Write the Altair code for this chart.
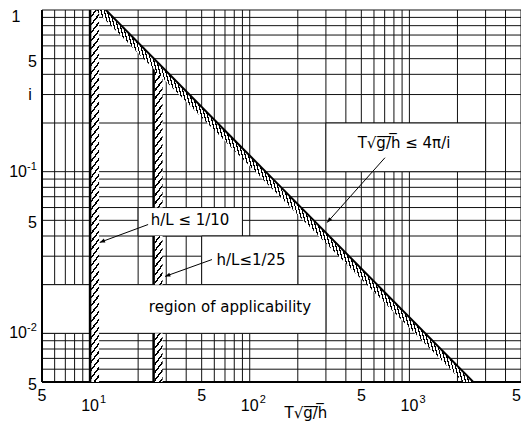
import math
import altair as alt
import pandas as pd

# ---------------- data ----------------
x_grid = [5, 6, 7, 8, 9, 10, 20, 30, 40, 50, 60, 70, 80, 90, 100, 200, 300, 400,
          500, 600, 700, 800, 900, 1000, 2000, 3000, 4000, 5000]
y_grid = [0.005, 0.006, 0.007, 0.008, 0.009, 0.01, 0.02, 0.03, 0.04, 0.05, 0.06,
          0.07, 0.08, 0.09, 0.1, 0.2, 0.3, 0.4, 0.5, 0.6, 0.7, 0.8, 0.9, 1.0]

x_five_vals = [5, 50, 500]
x_edge_vals = [5000]
x_major_vals = [10, 100, 1000]
x_major_exp = ["1", "2", "3"]
y_one_vals = [1.0]
y_five_vals = [0.5, 0.05, 0.005]
y_major_vals = [0.1, 0.01]
y_major_exp = ["-1", "-2"]

# limit line  T*sqrt(g/h) = 4*pi / i
limit_T = [11.0, 2600.0]
limit_i = [4 * math.pi / t for t in limit_T]

# h/L limits (vertical hatched bands), split where label boxes hide them
band_T = [10, 25, 25, 25]
band_top = [1.0, 0.44, 0.04, 0.01]
band_bottom = [0.005, 0.06, 0.02, 0.005]
rule_T = [10, 25, 25, 25]
rule_top = [1.0, 4 * math.pi / 25, 0.04, 0.01]
rule_bottom = [0.005, 0.06, 0.02, 0.005]

# blank label areas in the grid
box_T1 = [300, 20, 50, 5]
box_T2 = [3000, 90, 200, 300]
box_i1 = [0.1, 0.04, 0.02, 0.01]
box_i2 = [0.2, 0.06, 0.04, 0.02]

# annotation texts
ann_text = ["T√g̅/̅h̅  ≤ 4π/i", "h/L ≤ 1/10", "h/L≤1/25", "region of applicability"]
ann_T = [925, 42.3, 101.9, 75.2]
ann_i = [0.151, 0.0505, 0.0286, 0.01447]

# arrows (tail, head)
arrow_id = [1, 1, 2, 2, 3, 3]
arrow_T = [23.1, 11.5, 58.0, 29.5, 703, 305]
arrow_i = [0.0471, 0.0365, 0.0286, 0.0225, 0.122, 0.0484]
head_T = [11.5, 29.5, 305]
head_i = [0.0365, 0.0225, 0.0484]
head_ang = [159, 160, 132]

# ---------------- styling helpers ----------------
W_PLOT, H_PLOT = 479, 372
PXD = H_PLOT / math.log10(1 / 0.005)
PXD_X = W_PLOT / 3.0
FONT = "DejaVu Sans"
LFONT = "Liberation Sans"
HATCH_FACTOR = 0.86

xs = alt.Scale(type="log", domain=[5, 5000], nice=False)
ys = alt.Scale(type="log", domain=[0.005, 1], nice=False)


def X(f):
    return alt.X(f"{f}:Q", scale=xs, axis=None)


def Y(f):
    return alt.Y(f"{f}:Q", scale=ys, axis=None)


def stripes(t0, t1, n, frac):
    p = (t1 - t0) / n
    out = []
    for k in range(n):
        a = round(t0 + k * p, 5)
        b = round(t0 + (k + frac) * p, 5)
        out += [{"offset": a, "color": "white"}, {"offset": a, "color": "black"},
                {"offset": b, "color": "black"}, {"offset": b, "color": "white"}]
    return out


def band_gradient(top, bottom, width=8, slope=1.3, period=8.0, frac=0.3):
    H = PXD * math.log10(top / bottom)
    a = slope * width / H
    m = max(0.05, a)
    L = 1 + 2 * m
    n = max(1, round(H * L * (1 + a * a) / period))
    return {"gradient": "linear", "x1": 0, "y1": -m, "x2": a * L, "y2": -m + L,
            "stops": stripes(0, 1, n, frac)}


def diag_gradient(s=4.0, period=6.0, frac=0.4):
    W = PXD_X * math.log10(limit_T[1] / limit_T[0])
    H = PXD * math.log10(limit_i[0] / (limit_i[1] * HATCH_FACTOR))
    r = W / H
    vx, vy = 0.5 * s * r, -0.5
    den = vx * vx + vy * vy

    def t(u, w):
        return (u * vx + (w - 0.5) * vy) / den

    t0, t1 = t(0, 0), t(1, 1)
    length = math.hypot(W, H)
    per_t = abs(t1 - t0) / length * period
    lo, hi = max(0.0, min(t0, t1) - 0.03), min(1.0, max(t0, t1) + 0.03)
    n = round((hi - lo) / per_t)
    return {"gradient": "linear", "x1": 0, "y1": 0.5, "x2": vx, "y2": 0.5 + vy,
            "stops": stripes(lo, hi, n, frac)}


# ---------------- layers ----------------
vgrid = alt.Chart(pd.DataFrame({"T": x_grid})).mark_rule(
    color="#111", strokeWidth=1).encode(x=X("T"))
hgrid = alt.Chart(pd.DataFrame({"i": y_grid})).mark_rule(
    color="#111", strokeWidth=1).encode(y=Y("i"))

frame_l = alt.Chart(pd.DataFrame({"T": [5]})).mark_rule(
    color="black", strokeWidth=2).encode(x=X("T"))
frame_b = alt.Chart(pd.DataFrame({"i": [0.005]})).mark_rule(
    color="black", strokeWidth=2).encode(y=Y("i"))

boxes = alt.Chart(pd.DataFrame({"T1": box_T1, "T2": box_T2, "i1": box_i1, "i2": box_i2})).mark_rect(
    fill="white", stroke="#111", strokeWidth=1).encode(
    x=X("T1"), x2="T2", y=Y("i1"), y2="i2")

band_layers = []
for T, top, bot in zip(band_T, band_top, band_bottom):
    band_layers.append(
        alt.Chart(pd.DataFrame({"T": [T], "top": [top], "bot": [bot]})).mark_rect(
            width=8, xOffset=5, fill=band_gradient(top, bot), strokeWidth=0).encode(
            x=X("T"), y=Y("top"), y2="bot"))

band_rules = alt.Chart(pd.DataFrame({"T": rule_T, "top": rule_top, "bot": rule_bottom})).mark_rule(
    color="black", strokeWidth=2.5).encode(x=X("T"), y=Y("top"), y2="bot")

line_df = pd.DataFrame({"T": limit_T, "i": limit_i})
hatch_df = line_df.assign(i2=line_df["i"] * HATCH_FACTOR)

diag_hatch = alt.Chart(hatch_df).mark_area(
    clip=True, fill=diag_gradient(), strokeWidth=0).encode(
    x=X("T"), y=Y("i"), y2="i2")
diag_line = alt.Chart(line_df).mark_line(
    clip=True, color="black", strokeWidth=2).encode(x=X("T"), y=Y("i"))

arrows = alt.Chart(pd.DataFrame({"id": arrow_id, "T": arrow_T, "i": arrow_i})).mark_line(
    color="black", strokeWidth=1).encode(x=X("T"), y=Y("i"), detail="id:N")
heads = alt.Chart(pd.DataFrame({"T": head_T, "i": head_i, "ang": head_ang})).mark_point(
    shape="M0,0L-1,-0.4L-1,0.4Z", filled=True, size=110, color="black", opacity=1).encode(
    x=X("T"), y=Y("i"), angle=alt.Angle("ang:Q", scale=None))

ann = alt.Chart(pd.DataFrame({"t": ann_text, "T": ann_T, "i": ann_i})).mark_text(
    font=FONT, fontSize=15, color="black").encode(x=X("T"), y=Y("i"), text="t:N")

# x tick labels
xl5 = alt.Chart(pd.DataFrame({"T": x_five_vals, "t": ["5"] * len(x_five_vals)})).mark_text(
    font=LFONT, fontSize=16, color="black").encode(x=X("T"), y=alt.value(386), text="t:N")
xl5e = alt.Chart(pd.DataFrame({"T": x_edge_vals, "t": ["5"] * len(x_edge_vals)})).mark_text(
    font=LFONT, fontSize=16, color="black", align="right").encode(
    x=X("T"), y=alt.value(386), text="t:N")
xl10 = alt.Chart(pd.DataFrame({"T": x_major_vals, "t": ["10"] * len(x_major_vals)})).mark_text(
    font=LFONT, fontSize=16, color="black").encode(x=X("T"), y=alt.value(396), text="t:N")
xlE = alt.Chart(pd.DataFrame({"T": x_major_vals, "t": x_major_exp})).mark_text(
    font=LFONT, fontSize=11, color="black", align="left", dx=10).encode(
    x=X("T"), y=alt.value(390), text="t:N")

# y tick labels
yl1 = alt.Chart(pd.DataFrame({"i": y_one_vals, "t": ["1"]})).mark_text(
    font=LFONT, fontSize=16, color="black", align="center", dy=7).encode(
    y=Y("i"), x=alt.value(-26), text="t:N")
yl5 = alt.Chart(pd.DataFrame({"i": y_five_vals, "t": ["5"] * len(y_five_vals)})).mark_text(
    font=LFONT, fontSize=16, color="black", align="right", dy=3).encode(
    y=Y("i"), x=alt.value(-5), text="t:N")
yl10 = alt.Chart(pd.DataFrame({"i": y_major_vals, "t": ["10"] * len(y_major_vals)})).mark_text(
    font=LFONT, fontSize=16, color="black", align="right").encode(
    y=Y("i"), x=alt.value(-15), text="t:N")
ylE = alt.Chart(pd.DataFrame({"i": y_major_vals, "t": y_major_exp})).mark_text(
    font=LFONT, fontSize=11, color="black", align="left", dy=-5).encode(
    y=Y("i"), x=alt.value(-15), text="t:N")

x_title = alt.Chart(pd.DataFrame({"t": ["T√g̅/̅h̅"], "T": [225]})).mark_text(
    font=FONT, fontSize=15, color="black").encode(x=X("T"), y=alt.value(403), text="t:N")
y_title = alt.Chart(pd.DataFrame({"t": ["i"], "i": [0.3]})).mark_text(
    font=LFONT, fontSize=16, color="black").encode(y=Y("i"), x=alt.value(-12), text="t:N")

chart = alt.layer(
    vgrid, hgrid, boxes, frame_l, frame_b, *band_layers, band_rules,
    diag_hatch, diag_line, arrows, heads, ann,
    xl5, xl5e, xl10, xlE, yl1, yl5, yl10, ylE, x_title, y_title,
).properties(
    width=W_PLOT, height=H_PLOT,
    autosize=alt.AutoSizeParams(type="none"),
    padding={"left": 34, "top": 2, "right": 0, "bottom": 40},
).configure_view(stroke=None)

chart.save("out.html", embed_options={"renderer": "svg", "actions": False})
